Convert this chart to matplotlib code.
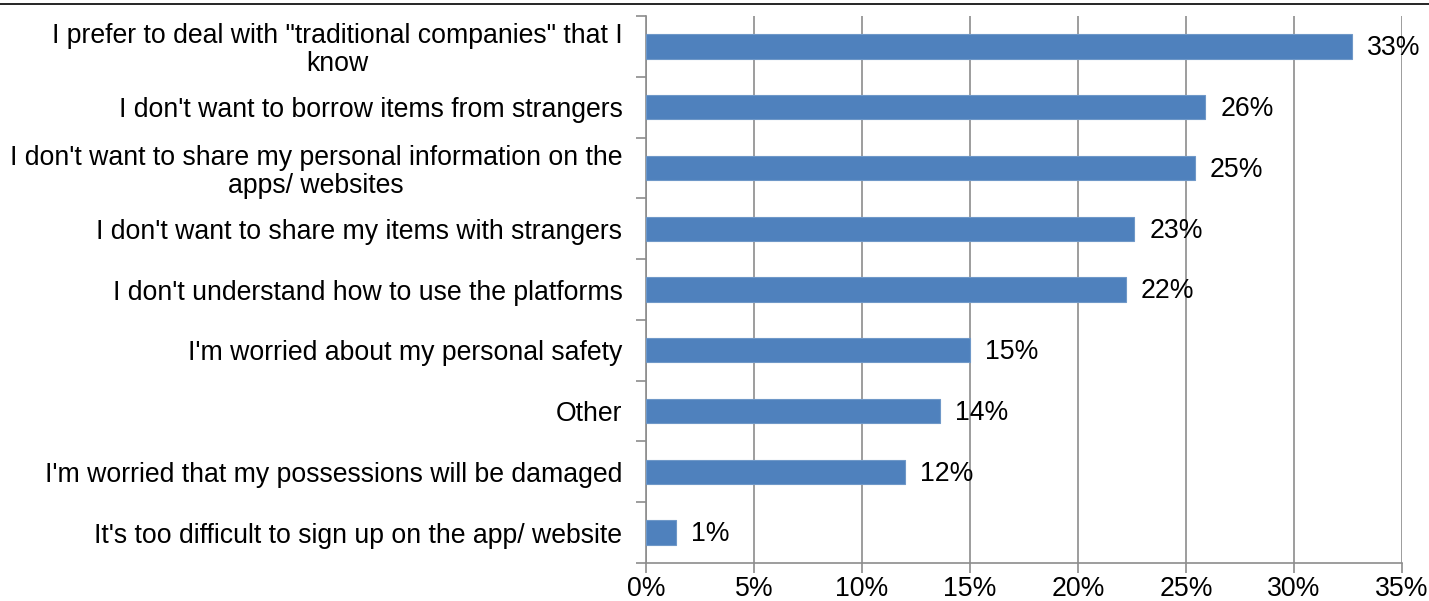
import matplotlib
matplotlib.use("Agg")
import matplotlib.pyplot as plt
from matplotlib.lines import Line2D
from matplotlib.ticker import MultipleLocator, FuncFormatter

plt.rcParams['font.family'] = ['Liberation Sans', 'DejaVu Sans']

categories = [
    'I prefer to deal with "traditional companies" that I\nknow',
    "I don't want to borrow items from strangers",
    "I don't want to share my personal information on the\napps/ websites",
    "I don't want to share my items with strangers",
    "I don't understand how to use the platforms",
    "I'm worried about my personal safety",
    "Other",
    "I'm worried that my possessions will be damaged",
    "It's too difficult to sign up on the app/ website",
]
values = [32.7, 25.9, 25.4, 22.6, 22.2, 15.0, 13.6, 12.0, 1.4]

FS = 19.2

fig = plt.figure(figsize=(14.29, 6.01), dpi=100)
ax = fig.add_axes([646 / 1429, 1 - 563 / 601, (1402 - 646) / 1429, (563 - 16) / 601])

n = len(categories)
ypos = list(range(n))
ax.barh(ypos, values, height=0.4, color='#4F81BD', edgecolor='#6f98c8', linewidth=0.8, zorder=3)

ax.set_xlim(0, 35)
ax.set_ylim(n - 0.5, -0.5)
ax.xaxis.set_major_locator(MultipleLocator(5))
ax.xaxis.set_major_formatter(FuncFormatter(lambda v, p: f"{v:.0f}%"))
ax.grid(axis='x', color='#8c8c8c', linewidth=1.2, zorder=0)

ax.set_yticks(ypos)
ax.set_yticklabels(categories, fontsize=FS, ha='right', multialignment='center',
                   linespacing=1.1)
ax.set_yticks([i - 0.5 for i in range(n + 1)], minor=True)
ax.tick_params(axis='y', which='major', length=0, pad=17)
ax.tick_params(axis='y', which='minor', length=7, color='#8c8c8c', width=1.2)
ax.tick_params(axis='x', length=7, color='#8c8c8c', width=1.2, labelsize=FS, pad=2)

for side in ('top', 'right'):
    ax.spines[side].set_visible(False)
for side in ('left', 'bottom'):
    ax.spines[side].set_color('#8c8c8c')
    ax.spines[side].set_linewidth(1.2)

for y, v in zip(ypos, values):
    ax.text(v + 0.7, y + 0.03, f"{round(v):.0f}%", va='center', ha='left', fontsize=FS, zorder=4)

fig.add_artist(Line2D([0, 1], [1 - 4 / 601, 1 - 4 / 601], color='black', linewidth=1.2,
                      transform=fig.transFigure))

fig.savefig('out.png', dpi=100, facecolor='white')
